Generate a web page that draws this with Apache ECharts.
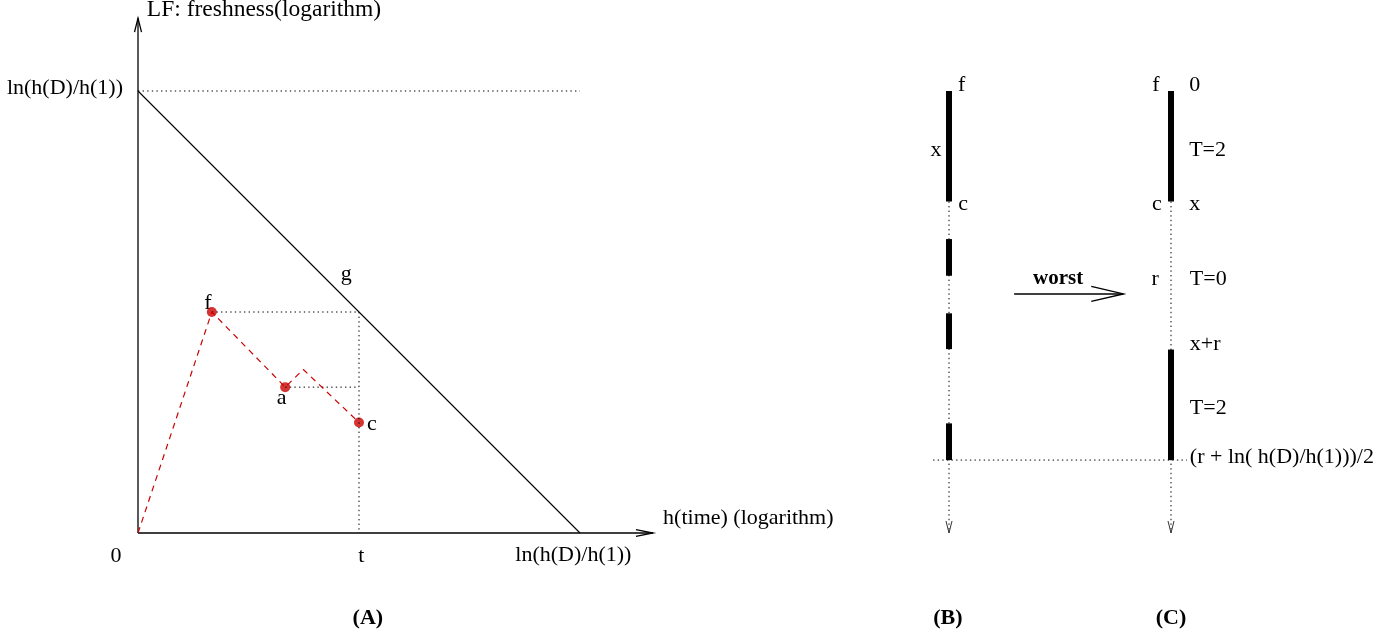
<!DOCTYPE html>
<html>
<head>
<meta charset="utf-8">
<script src="https://cdn.jsdelivr.net/npm/echarts@6/dist/echarts.min.js"></script>
<style>
html,body{margin:0;padding:0;background:#fff;}
#chart{width:1393px;height:638px;}
</style>
</head>
<body>
<div id="chart"></div>
<script>
// ---------- Panel (A) data, in axis units (D = ln(h(D)/h(1)) = 10) ----------
const D = 10;
const axisTipA = 11.65;                 // arrow tips of both axes
const bound = [[0, D], [D, 0]];          // LF upper bound line
const topRef = [[0, D], [D, D]];         // dotted ln(h(D)/h(1)) level
const redPath = [[0, 0], [1.67, 5.0], [3.33, 3.3], [3.74, 3.7], [5.0, 2.5]];
const redPoints = [[1.67, 5.0], [3.33, 3.3], [5.0, 2.5]];   // f, a, c
const tVal = 5.0;
const fDotH = [[1.67, 5.0], [tVal, 5.0]];
const tDotV = [[tVal, 5.0], [tVal, 0]];
const aDotH = [[3.33, 3.3], [tVal, 3.3]];

const labelsA = [
  { text: 'LF: freshness(logarithm)', at: [0.2, 11.83], align: 'left', size: 23.5 },
  { text: 'ln(h(D)/h(1))', at: [-0.34, 10.06], align: 'right' },
  { text: '0', at: [-0.5, -0.52] },
  { text: 't', at: [5.05, -0.52] },
  { text: 'ln(h(D)/h(1))', at: [9.85, -0.5] },
  { text: 'h(time) (logarithm)', at: [11.88, 0.33], align: 'left' },
  { text: 'g', at: [4.71, 5.86] },
  { text: 'f', at: [1.58, 5.2] },
  { text: 'a', at: [3.25, 3.05] },
  { text: 'c', at: [5.29, 2.45] },
  { text: '(A)', at: [5.2, -1.92], bold: true }
];

// ---------- Panels (B) and (C) data ----------
const colB = 1, colC = 7;
const topLevel = 10, bottomTip = 0;
const barsB = [[colB, 10, 7.5], [colB, 6.65, 5.82], [colB, 4.97, 4.16], [colB, 2.48, 1.65]];
const barsC = [[colC, 10, 7.5], [colC, 4.15, 1.65]];
const halfLevel = 1.65;                        // (r + ln(h(D)/h(1)))/2
const halfDot = [[0.57, halfLevel], [7.43, halfLevel]];
const worstArrow = [2.76, 5.41, 5.71, 5.41];

const labelsBC = [
  { text: 'f', at: [1.34, 10.12] },
  { text: 'f', at: [6.59, 10.12] },
  { text: '0', at: [7.49, 10.12], align: 'left' },
  { text: 'x', at: [0.65, 8.66] },
  { text: 'T=2', at: [7.49, 8.66], align: 'left' },
  { text: 'c', at: [1.38, 7.43] },
  { text: 'c', at: [6.62, 7.43] },
  { text: 'x', at: [7.49, 7.43], align: 'left' },
  { text: 'worst', at: [3.95, 5.76], bold: true, size: 21 },
  { text: 'r', at: [6.57, 5.74] },
  { text: 'T=0', at: [7.51, 5.74], align: 'left' },
  { text: 'x+r', at: [7.51, 4.27], align: 'left' },
  { text: 'T=2', at: [7.51, 2.83], align: 'left' },
  { text: '(r + ln( h(D)/h(1)))/2', at: [7.51, 1.72], align: 'left' },
  { text: '(B)', at: [0.97, -1.92], bold: true },
  { text: '(C)', at: [7.0, -1.92], bold: true }
];

// ---------- helpers ----------
const FONT = '"Liberation Serif", "Times New Roman", serif';
const DOTTED = [1.4, 3.2];

function lineSeries(data, xi, color, width, type) {
  return {
    type: 'line', xAxisIndex: xi, yAxisIndex: xi, data: data,
    symbol: 'none', silent: true, animation: false,
    lineStyle: { color: color, width: width, type: type }
  };
}

function arrowSeries(data, xi, opt) {
  return {
    type: 'custom', coordinateSystem: 'cartesian2d', xAxisIndex: xi, yAxisIndex: xi,
    data: data, silent: true, animation: false,
    renderItem: function (params, api) {
      const a = api.coord([api.value(0), api.value(1)]);
      const b = api.coord([api.value(2), api.value(3)]);
      const dx = b[0] - a[0], dy = b[1] - a[1];
      const L = Math.hypot(dx, dy), ux = dx / L, uy = dy / L;
      const h = opt.head, w = opt.half;
      const p1 = [b[0] - ux * h - uy * w, b[1] - uy * h + ux * w];
      const p2 = [b[0] - ux * h + uy * w, b[1] - uy * h - ux * w];
      return {
        type: 'group', children: [
          { type: 'line', shape: { x1: a[0], y1: a[1], x2: b[0], y2: b[1] },
            style: { stroke: opt.color, lineWidth: opt.width, lineDash: opt.dash || null } },
          { type: 'polyline', shape: { points: [p1, b, p2] },
            style: { stroke: opt.headColor || opt.color, lineWidth: opt.headWidth || opt.width, fill: null } }
        ]
      };
    }
  };
}

function barSeries(data, xi) {
  return {
    type: 'custom', coordinateSystem: 'cartesian2d', xAxisIndex: xi, yAxisIndex: xi,
    data: data, silent: true, animation: false,
    renderItem: function (params, api) {
      const t = api.coord([api.value(0), api.value(1)]);
      const b = api.coord([api.value(0), api.value(2)]);
      return { type: 'rect', shape: { x: t[0] - 3, y: t[1], width: 6, height: b[1] - t[1] },
               style: { fill: '#000' } };
    }
  };
}

function textSeries(labels, xi) {
  return {
    type: 'custom', coordinateSystem: 'cartesian2d', xAxisIndex: xi, yAxisIndex: xi,
    data: labels.map(l => l.at), silent: true, animation: false,
    renderItem: function (params, api) {
      const l = labels[params.dataIndex];
      const p = api.coord([api.value(0), api.value(1)]);
      return {
        type: 'text', x: p[0], y: p[1],
        style: {
          text: l.text,
          font: (l.bold ? 'bold ' : '') + (l.size || (l.bold ? 22 : 22)) + 'px ' + FONT,
          fill: '#000', align: l.align || 'center', verticalAlign: 'middle'
        }
      };
    }
  };
}

const chart = echarts.init(document.getElementById('chart'), null, { renderer: 'canvas' });
chart.setOption({
  backgroundColor: '#fff',
  animation: false,
  textStyle: { fontFamily: FONT },
  grid: [
    { left: 138, top: 2.6, width: 530.4, height: 530.4 },
    { left: 912, top: 2.6, width: 296, height: 530.4 }
  ],
  xAxis: [
    { type: 'value', gridIndex: 0, min: 0, max: 12, show: false },
    { type: 'value', gridIndex: 1, min: 0, max: 8, show: false }
  ],
  yAxis: [
    { type: 'value', gridIndex: 0, min: 0, max: 12, show: false },
    { type: 'value', gridIndex: 1, min: 0, max: 12, show: false }
  ],
  series: [
    // panel A
    lineSeries(topRef, 0, '#000', 1, DOTTED),
    lineSeries(fDotH, 0, '#000', 1, DOTTED),
    lineSeries(tDotV, 0, '#000', 1, DOTTED),
    lineSeries(aDotH, 0, '#000', 1, DOTTED),
    lineSeries(bound, 0, '#000', 1.1, 'solid'),
    arrowSeries([[0, 0, 0, axisTipA]], 0, { color: '#000', width: 1.3, head: 14, half: 3.5 }),
    arrowSeries([[0, 0, axisTipA, 0]], 0, { color: '#000', width: 1.3, head: 17, half: 3.3 }),
    lineSeries(redPath, 0, '#cc0000', 1.2, [6, 5]),
    {
      type: 'scatter', xAxisIndex: 0, yAxisIndex: 0, data: redPoints,
      symbol: 'circle', symbolSize: 10, silent: true, animation: false,
      itemStyle: { color: '#cc0000' }
    },
    textSeries(labelsA, 0),
    // panels B, C
    arrowSeries([[colB, topLevel, colB, bottomTip], [colC, topLevel, colC, bottomTip]], 1,
      { color: '#000', width: 1, dash: DOTTED, head: 12, half: 3, headColor: '#333', headWidth: 1 }),
    lineSeries(halfDot, 1, '#000', 1, DOTTED),
    barSeries(barsB, 1),
    barSeries(barsC, 1),
    arrowSeries([worstArrow], 1, { color: '#000', width: 1.5, head: 32, half: 7.5 }),
    textSeries(labelsBC, 1)
  ]
});
</script>
</body>
</html>
